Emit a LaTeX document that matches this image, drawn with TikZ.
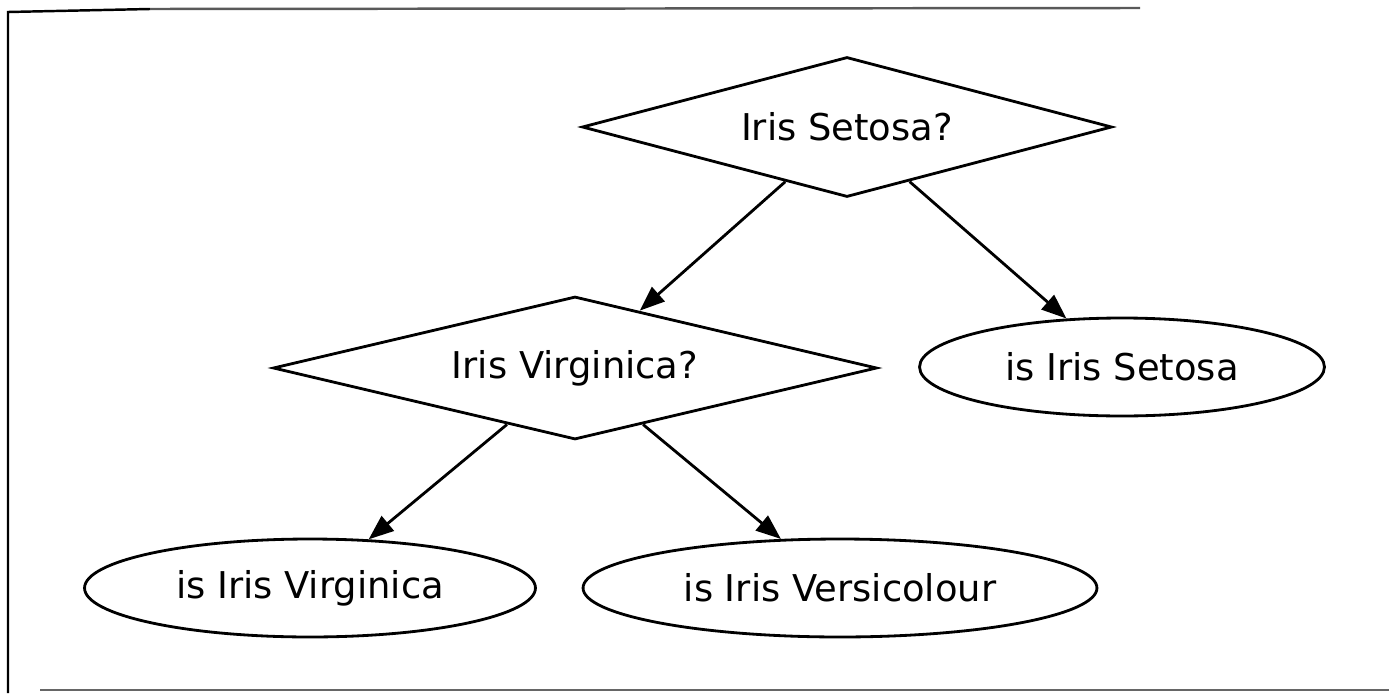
\documentclass[tikz,border=0pt]{standalone}
\usepackage{fontspec}
\setmainfont{DejaVu Sans}
\usetikzlibrary{shapes.geometric,arrows.meta}
\begin{document}
\begin{tikzpicture}[x=0.02cm,y=-0.02cm,
  shapebox/.style={draw, line width=1.6pt, inner sep=0pt,
    font=\fontsize{21pt}{25pt}\selectfont},
  decision/.style={shapebox, diamond, aspect=3.8},
  leaf/.style={shapebox, ellipse},
  edgearrow/.style={line width=1.6pt, -{Triangle[length=0.5cm,width=0.38cm]}},
  frameline/.style={line width=1.4pt}]
\fill[white] (0,0) rectangle (1389,693);
\useasboundingbox (0,0) rectangle (1389,693);
% scanned frame
\draw[frameline, black] (8,693) -- (8,12) -- (150,9);
\draw[frameline, black!65] (150,9) -- (1140,8);
\draw[frameline, black!60] (40,690) -- (1389,690);
% nodes
\node[decision, minimum width=10.6cm, minimum height=2.8cm] (d1) at (847,127) {Iris Setosa?};
\node[decision, minimum width=12.08cm, minimum height=2.86cm] (d2) at (575,368) {Iris Virginica?};
\node[leaf, minimum width=8.1cm, minimum height=1.96cm] (e1) at (1122,367) {is Iris Setosa};
\node[leaf, minimum width=9.02cm, minimum height=1.96cm] (e2) at (310,588) {is Iris Virginica};
\node[leaf, minimum width=10.28cm, minimum height=1.96cm] (e3) at (840,588) {is Iris Versicolour};
% connectors
\draw[edgearrow] (d1) -- (d2);
\draw[edgearrow] (d1) -- (e1);
\draw[edgearrow] (d2) -- (e2);
\draw[edgearrow] (d2) -- (e3);
\end{tikzpicture}
\end{document}
